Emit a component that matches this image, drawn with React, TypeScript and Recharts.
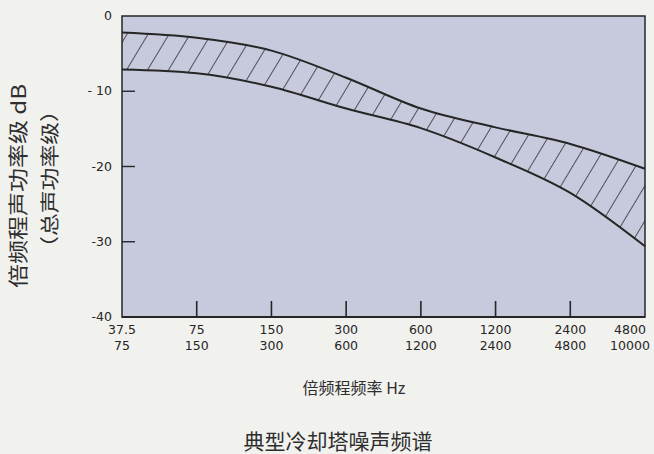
import React from "react";
import { ComposedChart, Area, Line, XAxis, YAxis, CartesianGrid, ReferenceArea } from "recharts";

const bandLow = ["37.5", "75", "150", "300", "600", "1200", "2400", "4800"];
const bandHigh = ["75", "150", "300", "600", "1200", "2400", "4800", "10000"];
const upperDb = [-2.2, -2.9, -4.6, -8.2, -12.3, -14.8, -17.0, -20.3];
const lowerDb = [-7.1, -7.6, -9.4, -12.3, -14.9, -18.8, -23.5, -30.6];
const yTicks = [0, -10, -20, -30, -40];
const yTickLabels = ["0", "- 10", "-20", "-30", "-40"];

const data = bandLow.map((c, i) => ({
  cat: c,
  upper: upperDb[i],
  lower: lowerDb[i],
  range: [lowerDb[i], upperDb[i]],
}));

const INK = "#262626";
const TEXT_FONT = "'DejaVu Sans', sans-serif";
const CJK_FONT = "'Noto Sans CJK SC', sans-serif";

const renderXTick = (props: any) => {
  const { x, y, index } = props;
  const last = bandLow.length - 1;
  const lx = index === last ? x - 15 : x;
  return (
    <g key={`xt-${index}`}>
      {index !== 0 && index !== last ? (
        <line x1={x} y1={y} x2={x} y2={y - 16} stroke={INK} strokeWidth={1.6} />
      ) : null}
      <text x={lx} y={y + 17} textAnchor="middle" fontSize={12.5} fill={INK} fontFamily={TEXT_FONT}>
        {bandLow[index]}
      </text>
      <text x={lx} y={y + 33} textAnchor="middle" fontSize={12.5} fill={INK} fontFamily={TEXT_FONT}>
        {bandHigh[index]}
      </text>
    </g>
  );
};

const renderYTick = (props: any) => {
  const { x, y, payload, index } = props;
  const i = yTicks.indexOf(payload.value);
  const inner = payload.value !== 0 && payload.value !== -40;
  return (
    <g key={`yt-${index}`}>
      {inner ? <line x1={x} y1={y} x2={x + 13} y2={y} stroke={INK} strokeWidth={1.4} /> : null}
      <text x={x - 10} y={y + 4} textAnchor="end" fontSize={12.5} fill={INK} fontFamily={TEXT_FONT}>
        {i >= 0 ? yTickLabels[i] : ""}
      </text>
    </g>
  );
};

export default function App() {
  return (
    <div
      style={{
        position: "fixed",
        left: 0,
        top: 0,
        width: 654,
        height: 454,
        background: "#f1f1ee",
        overflow: "hidden",
      }}
    >
      <ComposedChart
        width={654}
        height={454}
        data={data}
        margin={{ top: 16, right: 9, bottom: 97, left: 82 }}
      >
        <defs>
          <pattern
            id="hatch"
            width="18"
            height="18"
            patternUnits="userSpaceOnUse"
            patternTransform="rotate(31)"
          >
            <line x1="0" y1="0" x2="0" y2="18" stroke={INK} strokeWidth={1.5} />
          </pattern>
        </defs>
        <CartesianGrid horizontal={false} vertical={false} fill="#c7c9dc" />
        <XAxis
          dataKey="cat"
          type="category"
          scale="point"
          padding={{ left: 0, right: 0 }}
          height={40}
          tickSize={0}
          tickMargin={0}
          tickLine={false}
          axisLine={{ stroke: INK, strokeWidth: 2 }}
          tick={renderXTick}
          interval={0}
        />
        <YAxis
          type="number"
          domain={[-40, 0]}
          ticks={yTicks}
          width={40}
          tickSize={0}
          tickMargin={0}
          tickLine={false}
          axisLine={false}
          tick={renderYTick}
          interval={0}
          allowDataOverflow
        />
        <ReferenceArea x1="37.5" x2="4800" y1={-40} y2={0} fill="none" stroke={INK} strokeWidth={1.5} ifOverflow="visible" />
        <Area
          dataKey="range"
          type="monotone"
          stroke="none"
          fill="url(#hatch)"
          fillOpacity={1}
          isAnimationActive={false}
        />
        <Line dataKey="upper" type="monotone" stroke={INK} strokeWidth={2} dot={false} isAnimationActive={false} />
        <Line dataKey="lower" type="monotone" stroke={INK} strokeWidth={2} dot={false} isAnimationActive={false} />
      </ComposedChart>

      <div
        style={{
          position: "absolute",
          left: 18,
          top: 186,
          transform: "translate(-50%, -50%) rotate(-90deg) scaleX(1.2)",
          whiteSpace: "nowrap",
          fontSize: 20,
          lineHeight: 1,
          fontFamily: CJK_FONT,
          color: "#2e2e2e",
        }}
      >
        倍频程声功率级 dB
      </div>
      <div
        style={{
          position: "absolute",
          left: 48,
          top: 179,
          transform: "translate(-50%, -50%) rotate(-90deg) scaleX(1.2)",
          whiteSpace: "nowrap",
          fontSize: 19,
          lineHeight: 1,
          fontFamily: CJK_FONT,
          color: "#2e2e2e",
        }}
      >
        （总声功率级）
      </div>
      <div
        style={{
          position: "absolute",
          left: 354,
          top: 387,
          transform: "translate(-50%, -50%)",
          whiteSpace: "nowrap",
          fontSize: 16,
          lineHeight: 1,
          fontFamily: CJK_FONT,
          color: "#2e2e2e",
        }}
      >
        倍频程频率 Hz
      </div>
      <div
        style={{
          position: "absolute",
          left: 338,
          top: 440,
          transform: "translate(-50%, -50%)",
          whiteSpace: "nowrap",
          fontSize: 21,
          lineHeight: 1,
          fontFamily: CJK_FONT,
          color: "#2e2e2e",
        }}
      >
        典型冷却塔噪声频谱
      </div>
    </div>
  );
}
